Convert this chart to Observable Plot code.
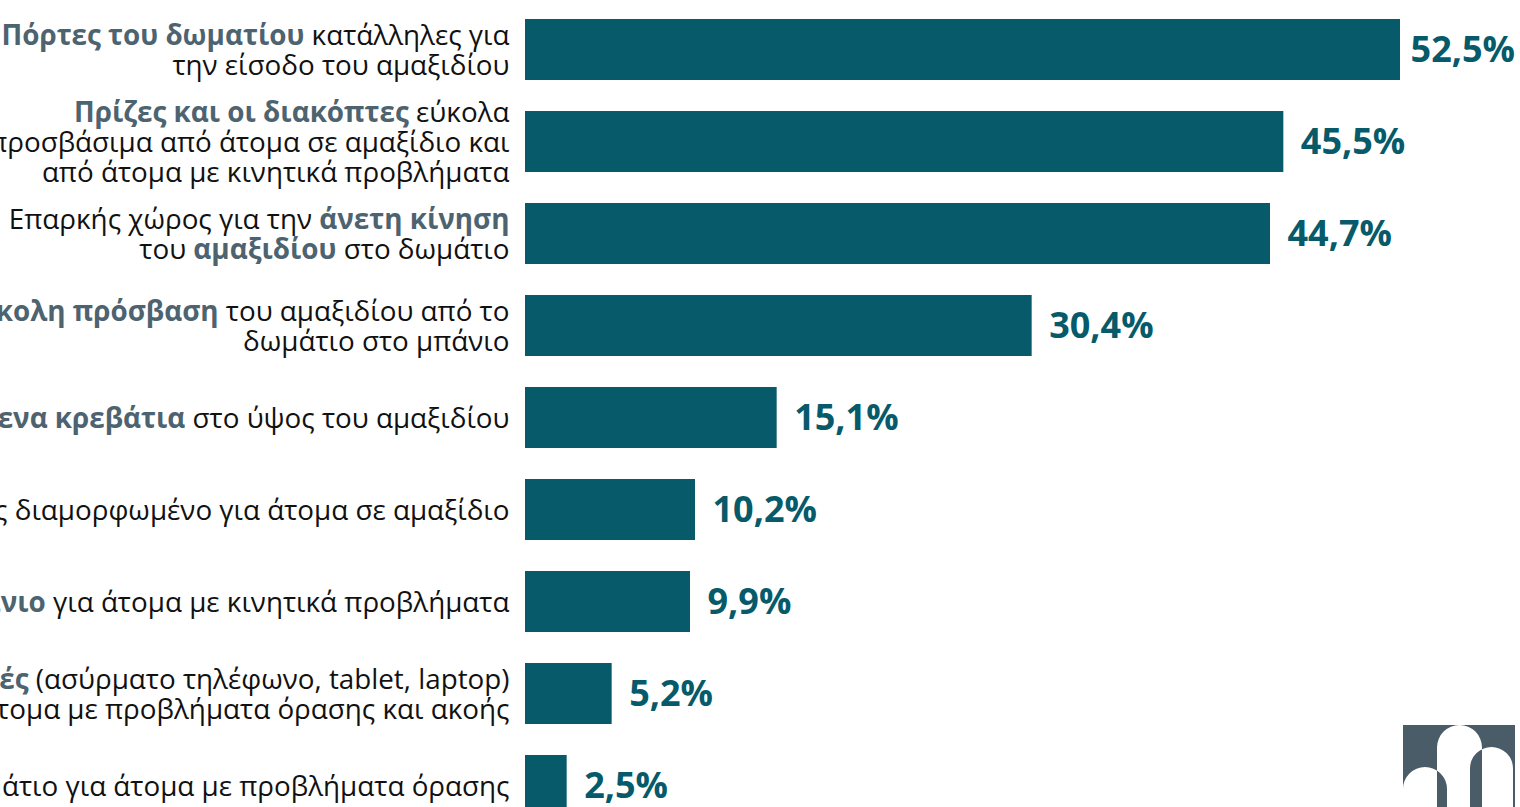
<!DOCTYPE html>
<html>
<head>
<meta charset="utf-8">
<script src="https://cdn.jsdelivr.net/npm/d3@7"></script>
<script src="https://cdn.jsdelivr.net/npm/@observablehq/plot@0.6"></script>
<style>
  html, body { margin: 0; padding: 0; background: #ffffff; overflow: hidden; }
  #chart { position: absolute; left: 0; top: 0; }
  #logo { position: absolute; left: 1403px; top: 725px; }
</style>
</head>
<body>
<div id="chart"></div>
<svg id="logo" width="112" height="82" viewBox="0 0 112 82">
  <rect x="0" y="0" width="112" height="82" fill="#4a5c67"></rect>
  <path fill="#ffffff" fill-rule="evenodd"
    d="M0,140 V64 A22,22 0 0 1 44,64 V140 Z M34,140 V22.5 A22.5,22.5 0 0 1 79,22.5 V140 Z M67,140 V43.5 A21.5,21.5 0 0 1 110,43.5 V140 Z"></path>
</svg>
<script>
// Category labels (** marks the highlighted, bold part; \n is a line break)
const categories = [
  "**Πόρτες του δωματίου** κατάλληλες για\nτην είσοδο του αμαξιδίου",
  "**Πρίζες και οι διακόπτες** εύκολα\nπροσβάσιμα από άτομα σε αμαξίδιο και\nαπό άτομα με κινητικά προβλήματα",
  "Επαρκής χώρος για την **άνετη κίνηση**\nτου **αμαξιδίου** στο δωμάτιο",
  "**Εύκολη πρόσβαση** του αμαξιδίου από το\nδωμάτιο στο μπάνιο",
  "**Ρυθμιζόμενα κρεβάτια** στο ύψος του αμαξιδίου",
  "**Μπάνιο** πλήρως διαμορφωμένο για άτομα σε αμαξίδιο",
  "**Ειδικό μπάνιο** για άτομα με κινητικά προβλήματα",
  "**Ηλεκτρονικές συσκευές** (ασύρματο τηλέφωνο, tablet, laptop)\nγια άτομα με προβλήματα όρασης και ακοής",
  "Ειδικά εξοπλισμένο δωμάτιο για άτομα με προβλήματα όρασης"
];
const values = [52.5, 45.5, 44.7, 30.4, 15.1, 10.2, 9.9, 5.2, 2.5];

const BAR = "#065a6a";
const HILITE = "#4d6370";
const FONT = "'Open Sans', 'Noto Sans', sans-serif";
const W = 1520;

const plain = s => s.replace(/\*\*/g, "");
const fmt = v => v.toFixed(1).replace(".", ",") + "%";

const data = categories.map((c, i) => ({
  label: plain(c),
  markup: c,
  value: values[i],
  valueLabel: fmt(values[i])
}));

const chart = Plot.plot({
  width: W,
  height: 807,
  marginLeft: 525,
  marginRight: 120,
  marginTop: 0,
  marginBottom: 0,
  style: { fontFamily: FONT, background: "#ffffff", overflow: "visible" },
  x: { domain: [0, 52.5], axis: null },
  y: { domain: data.map(d => d.label), range: [19, 816], paddingInner: 0.337, paddingOuter: 0, axis: null },
  marks: [
    Plot.barX(data, { x: "value", y: "label", fill: BAR }),
    Plot.text(data, {
      x: "value", y: "label", text: "valueLabel",
      textAnchor: "start", dx: 17, fontSize: 36, fontWeight: 700, fill: BAR
    }),
    Plot.text(data, {
      x: 0, y: "label", text: "label",
      textAnchor: "end", dx: -16, fontSize: 27.8, lineHeight: 1.08, fill: "#111111"
    })
  ]
});
document.getElementById("chart").appendChild(chart);

// Keep value labels inside the frame (shift left if they would overflow)
const valueSet = new Set(data.map(d => d.valueLabel));
chart.querySelectorAll("text").forEach(t => {
  if (!valueSet.has(t.textContent)) return;
  const b = t.getBBox();
  const ctm = t.getCTM();
  const right = (ctm ? ctm.e : 0) + b.x + b.width;
  const over = right - (W - 5);
  if (over > 0) {
    const tr = t.getAttribute("transform") || "";
    t.setAttribute("transform", `translate(${-over},0) ${tr}`);
  }
});

// Rebuild category label lines so that the highlighted words are bold and coloured
const markupByKey = new Map(data.map(d => [d.label, d.markup]));
chart.querySelectorAll("text").forEach(t => {
  const spans = Array.from(t.querySelectorAll("tspan"));
  const lineEls = spans.length ? spans : [t];
  const key = lineEls.map(e => e.textContent).join("\n");
  if (!markupByKey.has(key)) return;
  const mLines = markupByKey.get(key).split("\n");
  let bold = false;
  lineEls.forEach((el, i) => {
    const parts = mLines[i].split("**");
    el.textContent = "";
    parts.forEach((p, j) => {
      if (j > 0) bold = !bold;
      if (!p) return;
      const s = document.createElementNS("http://www.w3.org/2000/svg", "tspan");
      s.textContent = p;
      if (bold) { s.setAttribute("font-weight", "700"); s.setAttribute("fill", HILITE); }
      el.appendChild(s);
    });
  });
});
</script>
</body>
</html>
